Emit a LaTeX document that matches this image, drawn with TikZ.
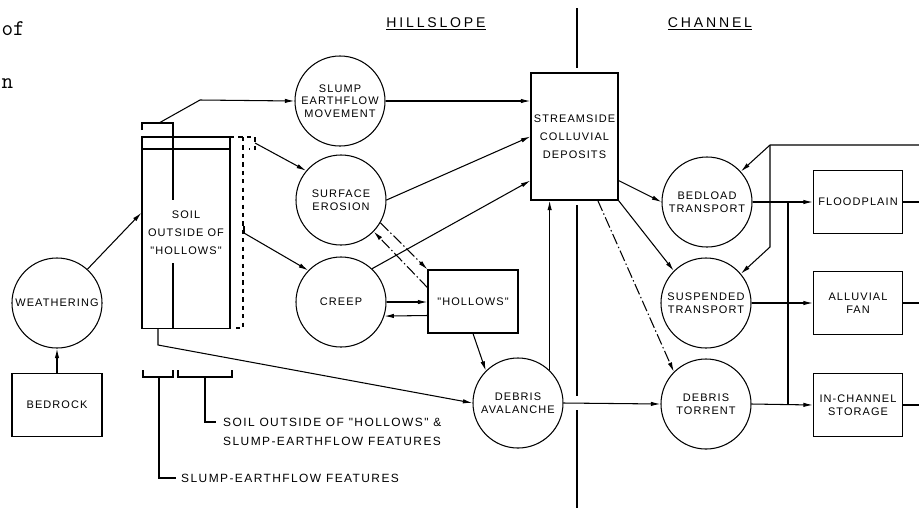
\documentclass[tikz,border=0pt]{standalone}
\usepackage{fontspec}
\usetikzlibrary{arrows.meta}
\newfontfamily\letras{Liberation Sans}[LetterSpace=10]
\newfontfamily\titulos{Liberation Sans}[LetterSpace=20]
\newfontfamily\notas{Liberation Sans}[LetterSpace=12]
\begin{document}
\begin{tikzpicture}[x=0.025cm, y=-0.025cm, line width=0.75pt,
    proc/.style={circle, draw, minimum size=2.25cm, inner sep=0pt, align=center, font=\letras\fontsize{7.8}{9}\selectfont},
    caja/.style={rectangle, draw, minimum width=2.225cm, minimum height=1.575cm, inner sep=0pt, align=center, font=\letras\fontsize{7.8}{9.5}\selectfont},
    alta/.style={font=\letras\fontsize{7.8}{13}\selectfont},
    flecha/.style={-{Latex[length=2.4mm,width=1.1mm]}},
    rayas/.style={dash pattern=on 8pt off 2pt on 1pt off 2pt}]
    \useasboundingbox (0,0) rectangle (919,508);
    % Restos del texto de la pagina
    \node[font=\ttfamily\fontsize{16}{18}\selectfont, anchor=base west, inner sep=0pt] (T_of) at (1,35) {of};
    \node[font=\ttfamily\fontsize{16}{18}\selectfont, anchor=base west, inner sep=0pt] (T_n) at (1,88) {n};

    % Titulos y division
    \node[font=\titulos\fontsize{10}{12}\selectfont] (T_hill) at (436,24) {\underline{HILLSLOPE}};
    \node[font=\titulos\fontsize{10}{12}\selectfont] (T_chan) at (710,24) {\underline{CHANNEL}};
    \draw (577,8) -- (577,68) (577,205) -- (577,396) (577,410) -- (577,508);

    % Ladera
    \node[proc] (C_weather) at (57,303) {WEATHERING};
    \node[caja, minimum width=2.25cm] (B_bedrock) at (57,405) {BEDROCK};
    \node[caja, alta, minimum width=2.2cm, minimum height=4.775cm] (B_soil) at (186,232.5) {SOIL\\OUTSIDE OF\\"HOLLOWS"};
    \node[proc] (C_slump) at (340,101) {SLUMP\\EARTHFLOW\\MOVEMENT};
    \node[proc] (C_erosion) at (341,200) {SURFACE\\EROSION};
    \node[proc] (C_creep) at (341,302) {CREEP};
    \node[caja, minimum width=2.25cm] (B_hollows) at (473,301.5) {"HOLLOWS"};
    \node[proc] (C_aval) at (518,403) {DEBRIS\\AVALANCHE};

    % Cauce
    \node[caja, alta, minimum width=2.175cm, minimum height=3.175cm] (B_stream) at (574.5,136.5) {STREAMSIDE\\COLLUVIAL\\DEPOSITS};
    \node[proc] (C_bedload) at (707,202) {BEDLOAD\\TRANSPORT};
    \node[proc] (C_susp) at (706,303) {SUSPENDED\\TRANSPORT};
    \node[proc] (C_torrent) at (706,404) {DEBRIS\\TORRENT};
    \node[caja] (B_flood) at (858,202) {FLOODPLAIN};
    \node[caja] (B_fan) at (858,303) {ALLUVIAL\\FAN};
    \node[caja] (B_store) at (858,405) {IN-CHANNEL\\STORAGE};

    % Detalles de la columna de suelo
    \draw (142,130) -- (142,123) -- (173,123) -- (173,200) (173,263) -- (173,328) (142,149) -- (230,149);
    \draw[dashed] (230,137) -- (255,137) -- (255,149) -- (249,149) (243,137) -- (243,328) -- (236,328);
    \draw (244,226) -- (244,233);
    \draw (143,370) -- (143,377) -- (173,377) -- (173,370) (178,370) -- (178,377) -- (232,377) -- (232,370);
    \coordinate (S_top) at (159,123);
    \coordinate (S_right) at (255,143);
    \coordinate (S_mid) at (244,233);
    \coordinate (S_bot) at (158,328);

    % Leyendas de los corchetes
    \draw (159,377) -- (159,478) -- (176,478) node[right, font=\notas\fontsize{8.5}{14}\selectfont] (L_slump) {SLUMP-EARTHFLOW FEATURES};
    \draw (205,377) -- (205,422) -- (216,422);
    \node[anchor=west, align=left, font=\notas\fontsize{8.5}{14}\selectfont] (L_soil) at (218,432) {SOIL OUTSIDE OF "HOLLOWS" \&\\SLUMP-EARTHFLOW FEATURES};

    % Flechas de la ladera
    \draw[flecha] (B_bedrock) -- (C_weather);
    \draw[flecha] (C_weather.48) -- (B_soil.156);
    \draw[flecha] (S_top) -- ++(41,-23) -- (C_slump.west);
    \draw[flecha] (C_slump.east) -- (C_slump.east -| B_stream.west);
    \draw[flecha] (S_right) -- (C_erosion.140);
    \draw[flecha] (S_mid) -- (C_creep.136);
    \draw[flecha] (S_bot) -- ++(0,17) -- (C_aval.west);
    \draw[flecha] (C_erosion.east) -- (B_stream.west);
    \draw[flecha] (C_creep.47) -- (B_stream.225);
    \draw[flecha, rayas] (C_erosion.-30) -- (B_hollows.north west);
    \draw[flecha, rayas] (B_hollows.163) -- (C_erosion.-44);
    \draw[flecha] (C_creep.east) -- (C_creep.east -| B_hollows.west);
    \draw[flecha] (B_hollows.west) ++(0,14) -- (C_creep.-18);
    \draw[flecha] (B_hollows.south) -- (C_aval.135);
    \draw[flecha] (C_aval.46) -- (C_aval.46 |- B_stream.south);
    \draw[flecha] (C_aval.east) -- (C_torrent.west);

    % Flechas del cauce
    \draw[flecha] (B_stream.-45) -- (C_bedload.west);
    \draw[flecha] (B_stream.south east) -- (C_susp.135);
    \draw[flecha, rayas] (B_stream.-70) -- (C_torrent.135);
    \draw[flecha] (C_bedload.east) -- (B_flood.west);
    \draw[flecha] (C_susp.east) -- (B_fan.west);
    \draw[flecha] (C_torrent.east) -- (B_store.west);
    \coordinate (R_tap) at (788,202);
    \draw (R_tap) -- (R_tap |- B_store.west);
    \coordinate (R_back) at (919,145);
    \coordinate (R_turn) at (770,145);
    \draw[flecha] (R_back) -- (R_turn) -- (C_bedload.42);
    \draw[flecha] (R_turn) -- ++(0,102) -- (C_susp.40);
    \draw (B_flood.east) -- (B_flood.east -| R_back) (B_fan.east) -- (B_fan.east -| R_back) (B_store.east) -- (B_store.east -| R_back);
\end{tikzpicture}
\end{document}
